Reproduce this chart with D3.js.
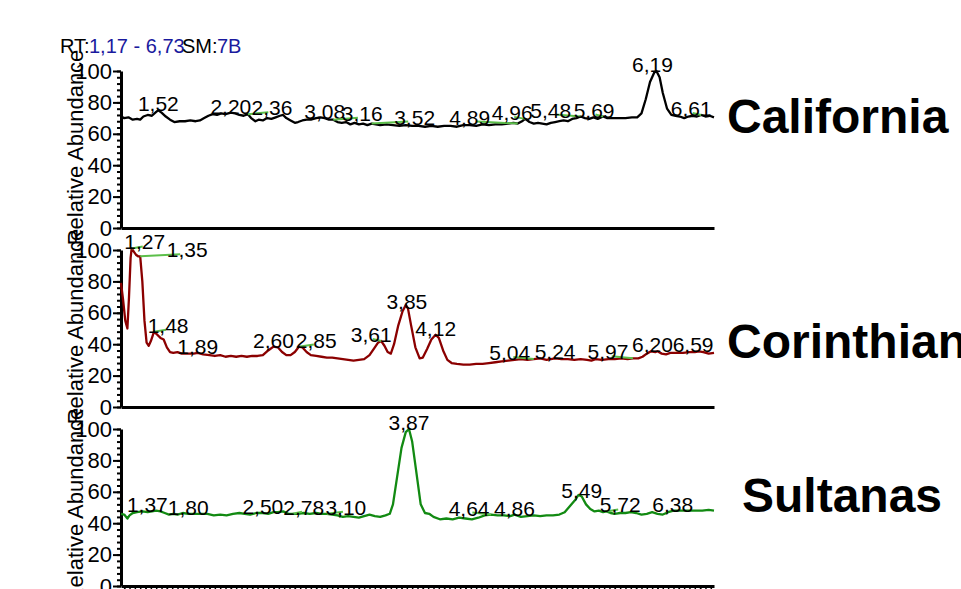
<!DOCTYPE html>
<html>
<head>
<meta charset="utf-8">
<script src="https://cdn.jsdelivr.net/npm/d3@7"></script>
<style>
  body { margin: 0; background: #fff; }
  svg { display: block; font-family: Arial, "Liberation Sans", sans-serif; }
</style>
</head>
<body>
<svg id="chart" width="961" height="589"></svg>
<script>
var rtRange = [1.17, 6.73];
var sampleNames = ['California', 'Corinthian', 'Sultanas'];
var yTicks = [0, 20, 40, 60, 80, 100];

// [retention time, relative abundance]
var californiaTrace = [
  [1.17,71],[1.20,70],[1.24,70.5],[1.28,69],[1.32,69.5],[1.35,69],[1.38,71],[1.42,72],[1.46,71.5],[1.50,74],
  [1.52,75],[1.55,73.5],[1.59,71],[1.63,69],[1.67,67.5],[1.72,68],[1.77,68],[1.82,68.5],[1.87,68],[1.91,68.5],
  [1.95,70],[1.99,71.5],[2.03,72.5],[2.07,72],[2.11,73],[2.15,72.5],[2.20,73.5],[2.24,73],[2.28,72],[2.32,71.5],
  [2.36,72.5],[2.39,70],[2.43,68],[2.46,69],[2.50,68.5],[2.54,70],[2.58,69.5],[2.62,70.5],[2.66,71.5],[2.69,72],
  [2.72,70],[2.76,68.5],[2.80,67],[2.83,67.5],[2.87,68.5],[2.91,69],[2.95,69],[3.00,70],[3.04,70.5],[3.08,70],
  [3.12,69],[3.16,69],[3.20,67.5],[3.24,67],[3.28,67.5],[3.32,66],[3.36,67],[3.40,66],[3.44,66.5],[3.48,65.5],
  [3.52,66.5],[3.56,66],[3.60,65.5],[3.66,66],[3.72,65.5],[3.78,65],[3.84,65.5],[3.90,65],[3.96,65],[4.02,64.5],
  [4.08,65],[4.14,64.5],[4.20,65],[4.26,65],[4.32,64.5],[4.38,65.5],[4.44,65.5],[4.50,65],[4.56,66],[4.62,65.5],
  [4.68,66],[4.74,66],[4.80,66.5],[4.85,67],[4.89,66.5],[4.93,68],[4.96,69.5],[5.00,67.5],[5.04,66.5],[5.08,67],
  [5.12,66.5],[5.16,66],[5.20,67],[5.24,67.5],[5.28,68],[5.32,68.5],[5.36,68],[5.40,69.5],[5.44,70],[5.48,71],
  [5.52,70],[5.56,69.5],[5.60,70.5],[5.64,69.5],[5.69,71],[5.73,70],[5.78,70],[5.84,70],[5.90,70],[5.96,70.5],
  [6.01,70.5],[6.05,73],[6.09,82],[6.13,93],[6.17,99],[6.19,100],[6.22,96],[6.25,86],[6.29,76],[6.33,72],
  [6.37,71.5],[6.41,71],[6.45,70],[6.49,71],[6.53,71.5],[6.57,71],[6.61,72],[6.65,71],[6.69,71.5],[6.73,70.5]
];

var corinthianTrace = [
  [1.17,79],[1.19,68],[1.21,55],[1.23,50],[1.245,70],[1.26,95],[1.27,101],[1.29,99],[1.31,97],[1.33,96],
  [1.35,96],[1.37,80],[1.39,55],[1.41,41],[1.43,39],[1.45,42],[1.48,48],[1.51,46],[1.54,44],[1.57,43],
  [1.60,38],[1.63,35],[1.66,34.5],[1.70,35],[1.74,34],[1.80,34],[1.85,34],[1.89,34.5],[1.94,33.5],[2.00,33],
  [2.05,32.5],[2.10,33],[2.15,32],[2.20,32.5],[2.25,32],[2.30,32.5],[2.35,32],[2.40,32.5],[2.45,32.5],[2.50,33],
  [2.55,36],[2.60,38.5],[2.64,38],[2.68,35],[2.72,33],[2.76,33],[2.80,35],[2.84,38.5],[2.87,38],[2.91,35],
  [2.95,33],[3.00,32.5],[3.05,32],[3.10,31.5],[3.15,31.5],[3.20,31],[3.25,30.5],[3.30,30],[3.35,29.5],[3.40,30],
  [3.45,30.5],[3.50,33],[3.55,38],[3.58,41],[3.61,42],[3.64,39],[3.67,35],[3.70,34],[3.73,40],[3.77,52],
  [3.81,61],[3.84,65],[3.86,63],[3.89,52],[3.93,38],[3.97,31],[4.00,31.5],[4.04,37],[4.08,43],[4.12,46],
  [4.15,44],[4.19,36],[4.23,30],[4.27,28],[4.32,27.5],[4.38,27],[4.44,27],[4.50,27.5],[4.56,27.5],[4.62,28],
  [4.68,28.5],[4.74,29],[4.80,29.5],[4.86,30],[4.92,30.5],[4.98,30],[5.04,30.5],[5.10,31],[5.16,30],[5.20,30.5],
  [5.24,31],[5.30,30.5],[5.36,30.5],[5.42,30],[5.48,30.5],[5.54,30],[5.58,29.5],[5.62,30.5],[5.68,30],[5.74,30.5],
  [5.80,30.5],[5.86,31],[5.92,30.5],[5.97,31],[6.02,31],[6.06,32],[6.10,34],[6.14,35.5],[6.18,35],[6.20,35.5],
  [6.24,34],[6.28,33.5],[6.32,34.5],[6.38,34.5],[6.44,34.5],[6.50,35],[6.55,35],[6.59,35.5],[6.63,35],[6.68,34],
  [6.73,34.5]
];

var sultanasTrace = [
  [1.17,46],[1.20,45.5],[1.23,43],[1.25,45],[1.28,46.5],[1.32,47],[1.37,47.5],[1.42,47],[1.46,47.5],[1.50,48],
  [1.54,47.5],[1.58,46.5],[1.62,45.5],[1.66,46],[1.70,45.5],[1.75,46.5],[1.80,46],[1.86,46],[1.92,46],[1.98,46],
  [2.04,45],[2.10,45.5],[2.16,45],[2.22,46],[2.28,46.5],[2.33,46],[2.38,45.5],[2.44,46.5],[2.50,46.5],[2.55,46],
  [2.60,47],[2.64,47],[2.69,47.5],[2.74,46],[2.78,46],[2.83,46],[2.88,46.5],[2.94,46],[3.00,46.5],[3.05,46],
  [3.10,46],[3.15,45.5],[3.20,45],[3.25,44],[3.30,44.5],[3.35,44],[3.40,43.5],[3.45,44.5],[3.50,45.5],[3.55,44.5],
  [3.60,44],[3.65,45],[3.69,46],[3.72,52],[3.76,70],[3.80,88],[3.84,98],[3.87,100],[3.90,92],[3.94,72],
  [3.98,52],[4.02,46.5],[4.06,46],[4.10,44],[4.16,42.5],[4.22,43],[4.28,42.5],[4.34,43.5],[4.40,43],[4.46,42.5],
  [4.52,43.5],[4.58,45],[4.64,45.5],[4.70,45],[4.76,45],[4.82,44.5],[4.86,45.5],[4.92,44],[4.98,44.5],[5.04,45],
  [5.10,44.5],[5.16,45],[5.22,45],[5.28,45.5],[5.33,47],[5.38,51],[5.43,55],[5.46,58],[5.49,57],[5.53,52],
  [5.57,49],[5.61,47.5],[5.65,48],[5.69,47],[5.72,47.5],[5.76,46.5],[5.80,46],[5.85,46.5],[5.90,46.5],[5.95,47],
  [6.00,46.5],[6.05,45.5],[6.10,46],[6.15,47],[6.20,46],[6.25,45.5],[6.30,47],[6.35,48],[6.38,48],[6.44,48],
  [6.50,48],[6.56,48],[6.62,48],[6.68,48.5],[6.73,48]
];

// labelled peak retention times
var californiaPeaks = [1.52, 2.20, 2.36, 3.08, 3.16, 3.52, 4.89, 4.96, 5.48, 5.69, 6.19, 6.61];
var corinthianPeaks = [1.27, 1.35, 1.48, 1.89, 2.60, 2.85, 3.61, 3.85, 4.12, 5.04, 5.24, 5.97, 6.20, 6.59];
var sultanasPeaks = [1.37, 1.80, 2.50, 2.78, 3.10, 3.87, 4.64, 4.86, 5.49, 5.72, 6.38];

// how far (px) the software pushed a label away from its peak
var labelShift = {
  California: {'2.36': 24, '3.16': 29, '3.52': 43, '4.89': -48, '4.96': -13, '5.48': -30, '5.69': -9, '6.19': -4, '6.61': -10},
  Corinthian: {'1.27': 13, '1.35': 47, '1.48': 14, '2.85': 16, '3.61': -10, '5.04': -24, '5.97': -25, '6.20': -5, '6.59': -6},
  Sultanas: {'1.37': 5, '2.78': 11, '3.10': 19, '4.64': -22, '5.72': 14, '6.38': -4}
};

var panels = [
  {name: 'California', trace: californiaTrace, peaks: californiaPeaks, color: '#000000', nameX: 727, nameDy: 62},
  {name: 'Corinthian', trace: corinthianTrace, peaks: corinthianPeaks, color: '#8b0000', nameX: 727, nameDy: 108},
  {name: 'Sultanas', trace: sultanasTrace, peaks: sultanasPeaks, color: '#128a12', nameX: 742, nameDy: 83}
];

var plot = {left: 121, right: 714, top: 71, height: 157, step: 179};

var svg = d3.select('#chart');

var x = d3.scaleLinear().domain(rtRange).range([plot.left, plot.right]);

function fmtRT(t) { return d3.format('.2f')(t).replace('.', ','); }

function valueAt(trace, t) {
  var best = trace[0];
  trace.forEach(function(d) {
    if (Math.abs(d[0] - t) < Math.abs(best[0] - t)) best = d;
  });
  return best[1];
}

// title
var title = svg.append('text').attr('y', 53).style('font-size', '20px');
title.append('tspan').attr('x', 60).text('RT:');
title.append('tspan').attr('x', 89).attr('fill', '#1a1a9e').text(fmtRT(rtRange[0]) + ' - ' + fmtRT(rtRange[1]));
title.append('tspan').attr('x', 182).text('SM:');
title.append('tspan').attr('x', 217).attr('fill', '#1a1a9e').text('7B');

panels.forEach(function(p, i) {
  var top = plot.top + i * plot.step;
  var bottom = top + plot.height;
  var y = d3.scaleLinear().domain([0, 100]).range([bottom, top]);
  var g = svg.append('g').attr('class', 'panel');

  // minor y ticks
  g.append('g')
    .attr('transform', 'translate(' + plot.left + ',0)')
    .call(d3.axisLeft(y).tickValues(d3.range(0, 101, 4)).tickSize(4).tickSizeOuter(0).tickFormat(''))
    .call(function(a) {
      a.select('.domain').remove();
      a.selectAll('line').attr('stroke', '#000').attr('stroke-width', 2);
    });

  var yAxis = g.append('g')
    .attr('transform', 'translate(' + plot.left + ',0)')
    .call(d3.axisLeft(y).tickValues(yTicks).tickSize(8).tickSizeOuter(0).tickPadding(1).tickFormat(d3.format('d')));
  yAxis.select('.domain').attr('stroke', '#000').attr('stroke-width', 3);
  yAxis.selectAll('line').attr('stroke', '#000').attr('stroke-width', 2);
  yAxis.selectAll('text').attr('fill', '#000').style('font-size', '22px').style('font-family', 'Arial, "Liberation Sans", sans-serif');

  // x axis: plain line on upper panels, ticked on the last
  var xAxis = g.append('g').attr('transform', 'translate(0,' + bottom + ')');
  if (i === panels.length - 1) {
    xAxis.call(d3.axisBottom(x).tickValues(d3.range(1.2, 6.73, 0.05)).tickSize(4).tickSizeOuter(0).tickFormat(''));
    xAxis.append('g')
      .call(d3.axisBottom(x).tickValues(d3.range(1.2, 6.73, 0.2)).tickSize(8).tickSizeOuter(0).tickFormat(''))
      .select('.domain').remove();
  } else {
    xAxis.call(d3.axisBottom(x).tickValues([]).tickSizeOuter(0));
  }
  xAxis.selectAll('.domain').attr('stroke', '#000').attr('stroke-width', 3);
  xAxis.selectAll('line').attr('stroke', '#000').attr('stroke-width', 1.5);

  g.append('text')
    .attr('transform', 'translate(83,' + ((top + bottom) / 2 - 2) + ') rotate(-90)')
    .attr('text-anchor', 'middle')
    .style('font-size', '22px')
    .text('Relative Abundance');

  var line = d3.line()
    .x(function(d) { return x(d[0]); })
    .y(function(d) { return y(d[1]); });

  g.append('path')
    .datum(p.trace)
    .attr('fill', 'none')
    .attr('stroke', p.color)
    .attr('stroke-width', 2.3)
    .attr('stroke-linejoin', 'round')
    .attr('d', line);

  var shifts = labelShift[p.name];
  var peaks = g.selectAll('.peak').data(p.peaks).enter().append('g').attr('class', 'peak');

  peaks.each(function(t) {
    var shift = shifts[t.toFixed(2)] || 0;
    var py = y(valueAt(p.trace, t));
    var el = d3.select(this);
    if (Math.abs(shift) > 6) {
      el.append('line')
        .attr('x1', x(t)).attr('y1', py)
        .attr('x2', x(t) + shift * 0.85).attr('y2', py - 2)
        .attr('stroke', '#5cbf4a').attr('stroke-width', 2);
    }
    el.append('text')
      .attr('x', x(t) + shift)
      .attr('y', py + 1)
      .attr('text-anchor', 'middle')
      .style('font-size', '21px')
      .text(fmtRT(t));
  });

  g.append('text')
    .attr('x', p.nameX)
    .attr('y', top + p.nameDy)
    .style('font-size', '48px')
    .style('font-weight', 'bold')
    .text(p.name);
});
</script>
</body>
</html>
